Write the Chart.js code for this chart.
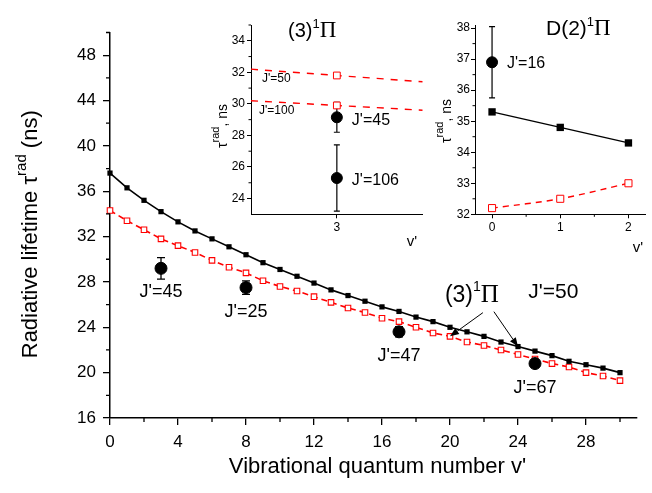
<!DOCTYPE html>
<html>
<head>
<meta charset="utf-8">
<script src="https://cdn.jsdelivr.net/npm/chart.js@4"></script>
<style>
  body { margin: 0; background: #fff; }
  #wrap { position: relative; width: 652px; height: 493px; }
  canvas { position: absolute; }
</style>
</head>
<body>
<div id="wrap">
  <canvas id="mainChart" width="652" height="493" style="left:0;top:0"></canvas>
  <canvas id="insetA" width="240" height="260" style="left:200px;top:0"></canvas>
  <canvas id="insetB" width="227" height="260" style="left:425px;top:0"></canvas>
</div>
<script>
// --- main panel: (3)1Pi, J'=50, lifetime vs v'
const vLevels = [0, 1, 2, 3, 4, 5, 6, 7, 8, 9, 10, 11, 12, 13, 14, 15, 16, 17, 18, 19, 20, 21, 22, 23, 24, 25, 26, 27, 28, 29, 30];
const tauSolid = [37.6, 36.3, 35.2, 34.2, 33.3, 32.5, 31.8, 31.1, 30.4, 29.7, 29.1, 28.5, 27.9, 27.3, 26.8, 26.3, 25.8, 25.4, 24.9, 24.5, 24.0, 23.6, 23.2, 22.7, 22.3, 21.9, 21.5, 21.0, 20.7, 20.4, 20.0];
const tauDashed = [34.3, 33.4, 32.6, 31.8, 31.2, 30.6, 29.9, 29.3, 28.8, 28.1, 27.6, 27.2, 26.7, 26.2, 25.7, 25.3, 24.8, 24.5, 24.0, 23.5, 23.2, 22.7, 22.4, 22.0, 21.6, 21.2, 20.8, 20.5, 20.0, 19.7, 19.3];
const expV = [3, 8, 17, 25];
const expTau = [29.2, 27.5, 23.6, 20.8];
const expErr = [0.95, 0.6, 0.45, 0.3];
const expJ = ["J'=45", "J'=25", "J'=47", "J'=67"];
const xTicksMain = [0, 4, 8, 12, 16, 20, 24, 28];
const xMinorMain = [2, 6, 10, 14, 18, 22, 26, 30];
const yTicksMain = [16, 20, 24, 28, 32, 36, 40, 44, 48];
const yMinorMain = [18, 22, 26, 30, 34, 38, 42, 46, 50];

// --- inset A: (3)1Pi, v'=3
const insetAV = [2, 3, 4];
const insetAJ50 = [32.2, 31.8, 31.4];
const insetAJ100 = [30.2, 29.9, 29.6];
const insetAExpV = [3, 3];
const insetAExpTau = [29.15, 25.3];
const insetAExpLow = [28.2, 23.2];
const insetAExpHigh = [30.1, 27.4];
const insetAExpJ = ["J'=45", "J'=106"];
const xTicksA = [3];
const yTicksA = [24, 26, 28, 30, 32, 34];
const yMinorA = [25, 27, 29, 31, 33, 35];

// --- inset B: D(2)1Pi
const insetBV = [0, 1, 2];
const insetBSolid = [35.3, 34.8, 34.3];
const insetBDashed = [32.2, 32.5, 33.0];
const insetBExpV = [0];
const insetBExpTau = [36.9];
const insetBExpLow = [35.75];
const insetBExpHigh = [38.05];
const insetBExpJ = ["J'=16"];
const xTicksB = [0, 1, 2];
const xMinorB = [0.5, 1.5];
const yTicksB = [32, 33, 34, 35, 36, 37, 38];
const yMinorB = [32.5, 33.5, 34.5, 35.5, 36.5, 37.5];

const SANS = '"Liberation Sans", Arial, sans-serif';
const SERIF = '"Liberation Serif", "Times New Roman", serif';
const RED = '#ff0000';

const pts = (xs, ys) => xs.map((x, i) => ({ x: x, y: ys[i] }));

function richText(ctx, parts, x, y, align) {
  let w = 0;
  parts.forEach(p => { ctx.font = p.font; p.w = ctx.measureText(p.text).width; w += p.w; });
  let cx = align === 'center' ? x - w / 2 : x;
  ctx.textAlign = 'left';
  ctx.textBaseline = 'alphabetic';
  ctx.fillStyle = '#000';
  parts.forEach(p => { ctx.font = p.font; ctx.fillText(p.text, cx, y - (p.rise || 0)); cx += p.w; });
}

function minorTicks(chart, id, values, len, lw) {
  const s = chart.scales[id], a = chart.chartArea, ctx = chart.ctx;
  ctx.save();
  ctx.strokeStyle = '#000';
  ctx.lineWidth = lw;
  ctx.beginPath();
  values.forEach(v => {
    const p = s.getPixelForValue(v);
    if (s.isHorizontal()) { ctx.moveTo(p, a.bottom); ctx.lineTo(p, a.bottom + len); }
    else { ctx.moveTo(a.left, p); ctx.lineTo(a.left - len, p); }
  });
  ctx.stroke();
  ctx.restore();
}

function errBars(chart, xs, lo, hi, cap, lw) {
  const sx = chart.scales.x, sy = chart.scales.y, ctx = chart.ctx;
  ctx.save();
  ctx.strokeStyle = '#000';
  ctx.lineWidth = lw;
  ctx.beginPath();
  xs.forEach((v, i) => {
    const px = sx.getPixelForValue(v), y1 = sy.getPixelForValue(lo[i]), y2 = sy.getPixelForValue(hi[i]);
    ctx.moveTo(px, y1); ctx.lineTo(px, y2);
    ctx.moveTo(px - cap, y1); ctx.lineTo(px + cap, y1);
    ctx.moveTo(px - cap, y2); ctx.lineTo(px + cap, y2);
  });
  ctx.stroke();
  ctx.restore();
}

function arrow(ctx, x1, y1, x2, y2) {
  const ang = Math.atan2(y2 - y1, x2 - x1), hl = 9, hw = 3.5;
  ctx.save();
  ctx.strokeStyle = '#000';
  ctx.fillStyle = '#000';
  ctx.lineWidth = 1;
  ctx.beginPath();
  ctx.moveTo(x1, y1);
  ctx.lineTo(x2 - hl * Math.cos(ang), y2 - hl * Math.sin(ang));
  ctx.stroke();
  ctx.beginPath();
  ctx.moveTo(x2, y2);
  ctx.lineTo(x2 - hl * Math.cos(ang) + hw * Math.sin(ang), y2 - hl * Math.sin(ang) - hw * Math.cos(ang));
  ctx.lineTo(x2 - hl * Math.cos(ang) - hw * Math.sin(ang), y2 - hl * Math.sin(ang) + hw * Math.cos(ang));
  ctx.closePath();
  ctx.fill();
  ctx.restore();
}

function linAxis(o) {
  return {
    type: 'linear', min: o.min, max: o.max,
    afterBuildTicks: s => { s.ticks = o.ticks.map(v => ({ value: v })); },
    afterFit: s => { if (s.isHorizontal()) s.height = o.size; else s.width = o.size; },
    ticks: { font: { size: o.font, family: SANS }, color: '#000', padding: o.pad, maxRotation: 0, autoSkip: false },
    grid: { drawOnChartArea: false, drawTicks: true, tickLength: o.tick, color: '#000', lineWidth: o.lw },
    border: { display: true, color: '#000', width: o.bw }
  };
}

const baseOpts = {
  responsive: false,
  animation: false,
  events: [],
  plugins: { legend: { display: false }, tooltip: { enabled: false } }
};

// main chart
new Chart(document.getElementById('mainChart'), {
  type: 'scatter',
  data: {
    datasets: [
      { data: pts(expV, expTau), pointStyle: 'circle', pointRadius: 6, backgroundColor: '#000', borderColor: '#000', showLine: false, clip: false },
      { data: pts(vLevels, tauSolid), showLine: true, borderColor: '#000', borderWidth: 1.6, pointStyle: 'rect', pointRadius: 3.7, backgroundColor: '#000', pointBorderWidth: 0, clip: false },
      { data: pts(vLevels, tauDashed), showLine: true, borderColor: RED, borderWidth: 1.6, borderDash: [6, 4], pointStyle: 'rect', pointRadius: 3.9, backgroundColor: '#fff', pointBorderColor: RED, pointBorderWidth: 1.1, clip: false }
    ]
  },
  options: Object.assign({}, baseOpts, {
    layout: { padding: { left: 0, right: 15, top: 32.5, bottom: 0 } },
    scales: {
      x: linAxis({ min: 0, max: 31, ticks: xTicksMain, size: 75, font: 17, pad: 7, tick: 7, lw: 1.3, bw: 1.5 }),
      y: linAxis({ min: 16, max: 50, ticks: yTicksMain, size: 110, font: 17, pad: 7, tick: 7, lw: 1.3, bw: 1.5 })
    }
  }),
  plugins: [{
    id: 'mainDecor',
    beforeDatasetsDraw(chart) {
      errBars(chart, expV, expV.map((v, i) => expTau[i] - expErr[i]), expV.map((v, i) => expTau[i] + expErr[i]), 4, 1.3);
    },
    afterDraw(chart) {
      const ctx = chart.ctx, sx = chart.scales.x, sy = chart.scales.y, a = chart.chartArea;
      minorTicks(chart, 'x', xMinorMain, 4, 1.3);
      minorTicks(chart, 'y', yMinorMain, 4, 1.3);
      ctx.save();
      // J' labels under the measured points
      ctx.font = `18px ${SANS}`;
      ctx.fillStyle = '#000';
      ctx.textAlign = 'center';
      ctx.textBaseline = 'alphabetic';
      expV.forEach((v, i) => ctx.fillText(expJ[i], sx.getPixelForValue(v), sy.getPixelForValue(expTau[i]) + 29));
      // (3)1Pi  J'=50 note with arrows
      const ax = sx.getPixelForValue(19.7), ay = sy.getPixelForValue(26.26);
      richText(ctx, [
        { text: '(3)', font: `23px ${SANS}` },
        { text: '1', font: `14px ${SANS}`, rise: 11 },
        { text: '\u03A0', font: `25px ${SERIF}` }
      ], ax, ay, 'left');
      ctx.font = `21px ${SANS}`;
      ctx.textAlign = 'left';
      ctx.fillText("J'=50", sx.getPixelForValue(24.6), sy.getPixelForValue(26.6));
      arrow(ctx, ax + 38, ay + 11, sx.getPixelForValue(20), sy.getPixelForValue(tauDashed[20]));
      arrow(ctx, ax + 49, ay + 10, sx.getPixelForValue(24), sy.getPixelForValue(tauSolid[24]));
      // axis titles
      ctx.font = `22px ${SANS}`;
      ctx.textAlign = 'center';
      ctx.fillText("Vibrational quantum number v'", (a.left + a.right) / 2 + 4, 473);
      ctx.translate(37, (a.top + a.bottom) / 2 + 9);
      ctx.rotate(-Math.PI / 2);
      richText(ctx, [
        { text: 'Radiative lifetime \u03C4', font: `22px ${SANS}` },
        { text: 'rad', font: `15px ${SANS}`, rise: 11 },
        { text: ' (ns)', font: `22px ${SANS}` }
      ], 0, 0, 'center');
      ctx.restore();
    }
  }]
});

// inset A
new Chart(document.getElementById('insetA'), {
  type: 'scatter',
  data: {
    datasets: [
      { data: pts(insetAExpV, insetAExpTau), pointStyle: 'circle', pointRadius: 5.5, backgroundColor: '#000', borderColor: '#000', showLine: false, clip: false },
      { data: pts(insetAV, insetAJ50), showLine: true, borderColor: RED, borderWidth: 1.4, borderDash: [7, 7], pointStyle: 'rect', pointRadius: c => (c.raw && c.raw.x === 3 ? 4.8 : 0), backgroundColor: '#fff', pointBorderColor: RED, pointBorderWidth: 1 },
      { data: pts(insetAV, insetAJ100), showLine: true, borderColor: RED, borderWidth: 1.4, borderDash: [7, 7], pointStyle: 'rect', pointRadius: c => (c.raw && c.raw.x === 3 ? 4.8 : 0), backgroundColor: '#fff', pointBorderColor: RED, pointBorderWidth: 1 }
    ]
  },
  options: Object.assign({}, baseOpts, {
    layout: { padding: { left: 0, right: 17.3, top: 25, bottom: 0 } },
    scales: {
      x: linAxis({ min: 2, max: 4, ticks: xTicksA, size: 45.7, font: 12, pad: 2, tick: 4, lw: 1, bw: 1 }),
      y: linAxis({ min: 23, max: 35, ticks: yTicksA, size: 51, font: 12, pad: 2, tick: 4, lw: 1, bw: 1 })
    }
  }),
  plugins: [{
    id: 'insetADecor',
    beforeDatasetsDraw(chart) {
      errBars(chart, insetAExpV, insetAExpLow, insetAExpHigh, 3, 1.2);
    },
    afterDraw(chart) {
      const ctx = chart.ctx, sx = chart.scales.x, sy = chart.scales.y;
      minorTicks(chart, 'y', yMinorA, 2.5, 1);
      ctx.save();
      ctx.fillStyle = '#000';
      ctx.font = `12px ${SANS}`;
      ctx.textAlign = 'left';
      ctx.textBaseline = 'middle';
      ctx.fillText("J'=50", sx.getPixelForValue(insetAV[0]) + 11, sy.getPixelForValue(insetAJ50[0]) + 10);
      ctx.fillText("J'=100", sx.getPixelForValue(insetAV[0]) + 8, sy.getPixelForValue(insetAJ100[0]) + 10);
      ctx.font = `16px ${SANS}`;
      insetAExpV.forEach((v, i) => ctx.fillText(insetAExpJ[i], sx.getPixelForValue(v) + 15, sy.getPixelForValue(insetAExpTau[i]) + 3));
      ctx.font = `15px ${SANS}`;
      ctx.textAlign = 'center';
      ctx.fillText("v'", 212, 242);
      richText(ctx, [
        { text: '(3)', font: `20px ${SANS}` },
        { text: '1', font: `13px ${SANS}`, rise: 9 },
        { text: '\u03A0', font: `23px ${SERIF}` }
      ], 88, 37, 'left');
      ctx.translate(26.5, 126);
      ctx.rotate(-Math.PI / 2);
      richText(ctx, [
        { text: '\u03C4', font: `14px ${SANS}` },
        { text: 'rad', font: `11px ${SANS}`, rise: 8 },
        { text: ', ns', font: `14px ${SANS}` }
      ], 0, 0, 'center');
      ctx.restore();
    }
  }]
});

// inset B
new Chart(document.getElementById('insetB'), {
  type: 'scatter',
  data: {
    datasets: [
      { data: pts(insetBExpV, insetBExpTau), pointStyle: 'circle', pointRadius: 5.5, backgroundColor: '#000', borderColor: '#000', showLine: false, clip: false },
      { data: pts(insetBV, insetBSolid), showLine: true, borderColor: '#000', borderWidth: 1.4, pointStyle: 'rect', pointRadius: 5.2, backgroundColor: '#000', pointBorderWidth: 0, clip: false },
      { data: pts(insetBV, insetBDashed), showLine: true, tension: 0.3, borderColor: RED, borderWidth: 1.4, borderDash: [6, 5], pointStyle: 'rect', pointRadius: 5, backgroundColor: '#fff', pointBorderColor: RED, pointBorderWidth: 1, clip: false }
    ]
  },
  options: Object.assign({}, baseOpts, {
    layout: { padding: { left: 0, right: 4, top: 25, bottom: 0 } },
    scales: {
      x: linAxis({ min: -0.25, max: 2.25, ticks: xTicksB, size: 45.7, font: 12, pad: 2, tick: 4, lw: 1, bw: 1 }),
      y: linAxis({ min: 32, max: 38.1, ticks: yTicksB, size: 50, font: 12, pad: 1, tick: 4, lw: 1, bw: 1 })
    }
  }),
  plugins: [{
    id: 'insetBDecor',
    beforeDatasetsDraw(chart) {
      errBars(chart, insetBExpV, insetBExpLow, insetBExpHigh, 3, 1.2);
    },
    afterDraw(chart) {
      const ctx = chart.ctx, sx = chart.scales.x, sy = chart.scales.y;
      minorTicks(chart, 'x', xMinorB, 2.5, 1);
      minorTicks(chart, 'y', yMinorB, 2.5, 1);
      ctx.save();
      ctx.fillStyle = '#000';
      ctx.font = `16px ${SANS}`;
      ctx.textAlign = 'left';
      ctx.textBaseline = 'middle';
      insetBExpV.forEach((v, i) => ctx.fillText(insetBExpJ[i], sx.getPixelForValue(v) + 15, sy.getPixelForValue(insetBExpTau[i]) + 1));
      ctx.font = `15px ${SANS}`;
      ctx.textAlign = 'center';
      ctx.fillText("v'", 213, 248);
      richText(ctx, [
        { text: 'D(2)', font: `21px ${SANS}` },
        { text: '1', font: `13px ${SANS}`, rise: 9 },
        { text: '\u03A0', font: `23px ${SERIF}` }
      ], 121, 35, 'left');
      ctx.translate(26, 121);
      ctx.rotate(-Math.PI / 2);
      richText(ctx, [
        { text: '\u03C4', font: `14px ${SANS}` },
        { text: 'rad', font: `11px ${SANS}`, rise: 8 },
        { text: ', ns', font: `14px ${SANS}` }
      ], 0, 0, 'center');
      ctx.restore();
    }
  }]
});
</script>
</body>
</html>
